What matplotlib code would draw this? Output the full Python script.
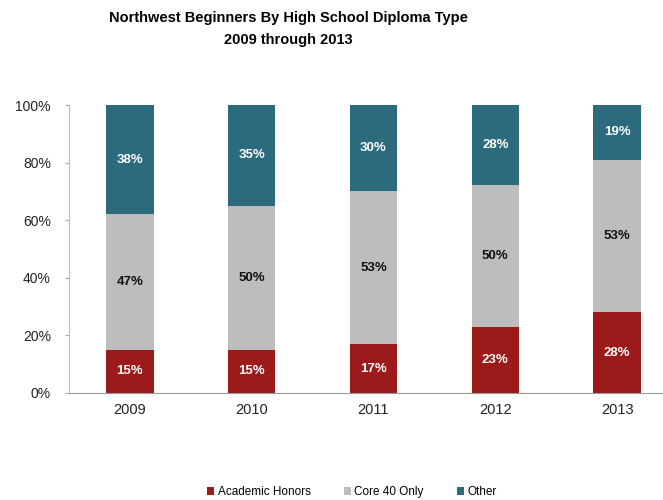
import numpy as np
import matplotlib
matplotlib.use("Agg")
import matplotlib.pyplot as plt
from matplotlib.ticker import PercentFormatter

plt.rcParams['font.family'] = ['Liberation Sans', 'DejaVu Sans']

years = ['2009', '2010', '2011', '2012', '2013']
academic_honors = [15, 15, 17, 23, 28]
core_40_only = [47, 50, 53, 50, 53]
other = [38, 35, 30, 28, 19]

series = [
    ('Academic Honors', academic_honors, '#9c1a1a', 'white'),
    ('Core 40 Only', core_40_only, '#bdbdbd', '#111111'),
    ('Other', other, '#2c6a7e', 'white'),
]

fig = plt.figure(figsize=(6.63, 5.0), dpi=100)
ax = fig.add_axes([69 / 663, 107 / 500, 609 / 663, 288 / 500])

totals = np.array(academic_honors) + np.array(core_40_only) + np.array(other)
x = np.arange(len(years))
bottom = np.zeros(len(years))
handles = []
for name, vals, color, txt_color in series:
    share = np.array(vals) / totals * 100
    bars = ax.bar(x, share, bottom=bottom, width=0.39, color=color, label=name)
    handles.append(bars)
    for xi, b, s, v in zip(x, bottom, share, vals):
        ax.text(xi, b + s / 2, f'{v}%', ha='center', va='center',
                color=txt_color, fontsize=9.5, fontweight='bold')
    bottom += share

ax.set_xlim(-0.5, len(years) - 0.5)
ax.set_ylim(0, 100)
ax.set_yticks(np.arange(0, 101, 20))
ax.yaxis.set_major_formatter(PercentFormatter(decimals=0))
ax.set_xticks(x)
ax.set_xticklabels(years)
ax.tick_params(axis='both', colors='#222222', length=0)
ax.tick_params(axis='y', labelsize=10, length=3, color='#aaaaaa', pad=10)
ax.tick_params(axis='x', labelsize=10.5, pad=7)
for side in ['top', 'right']:
    ax.spines[side].set_visible(False)
ax.spines['left'].set_color('#bbbbbb')
ax.spines['bottom'].set_color('#999999')

fig.text(288 / 663, 1 - 11 / 500, 'Northwest Beginners By High School Diploma Type\n2009 through 2013',
         ha='center', va='top', fontsize=10.5, fontweight='bold', linespacing=1.75)

fig.legend(handles=handles, labels=[s[0] for s in series], loc='center',
           bbox_to_anchor=(352 / 663, 1 - 492 / 500), ncol=3, frameon=False,
           fontsize=8.5, handlelength=0.6, handleheight=0.6, handletextpad=0.3,
           columnspacing=2.8)

fig.savefig('out.png', dpi=100)
